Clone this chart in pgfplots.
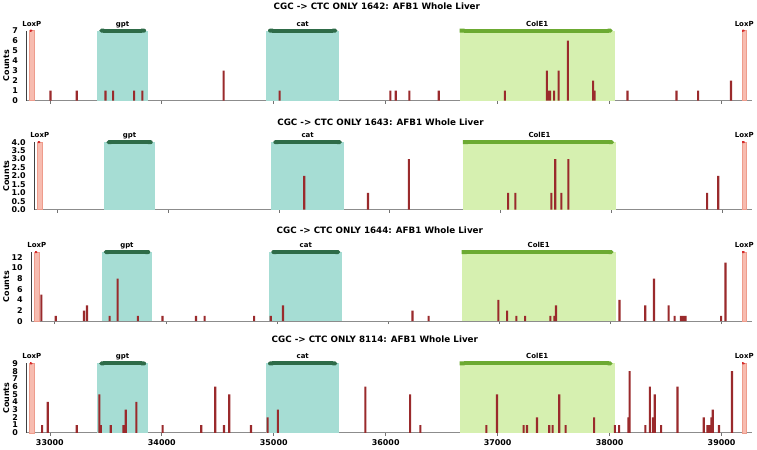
\documentclass[border=0pt]{standalone}
\usepackage{pgfplots}
\pgfplotsset{compat=1.18}
\usepackage{fontspec}
\setmainfont{DejaVu Sans}
\usetikzlibrary{arrows.meta}
\definecolor{tealfill}{HTML}{A6DDD4}
\definecolor{gptbar}{HTML}{2E6B48}
\definecolor{colfill}{HTML}{D6F0B0}
\definecolor{colbar}{HTML}{6CAA32}
\definecolor{loxfill}{HTML}{F7BCB0}
\definecolor{loxedge}{HTML}{EE9C8C}
\definecolor{loxred}{HTML}{D42A2A}
\definecolor{barred}{HTML}{9A2A2C}
\newcommand{\tickfont}{\fontsize{8}{8}\selectfont\bfseries}
\newcommand{\labfont}{\fontsize{7}{8}\selectfont\bfseries}
\newcommand{\ylabfont}{\fontsize{8}{8}\selectfont\bfseries}
\newcommand{\titfont}{\fontsize{8.8}{10}\selectfont\bfseries}
\pgfplotsset{
  panel/.style={
    scale only axis, clip=false,
    xmin=32790, xmax=39270, ymin=0,
    axis x line*=bottom, axis y line*=left,
    x axis line style={color=black!45, line width=0.9bp},
    y axis line style={color=black!75, line width=1.4bp},
    xtick={33000,34000,35000,36000,37000,38000,39000},
    tick align=outside, major tick length=3bp,
    xtick style={color=black!55, line width=0.6bp},
    ytick style={draw=none},
    scaled x ticks=false,
    /pgf/number format/assume math mode=true,
    xticklabel style={font=\tickfont, /pgf/number format/set thousands separator={}},
    yticklabel style={font=\tickfont, xshift=-2bp},
  }
}
\newcommand{\features}[1]{%
  \addplot[draw=none, fill=tealfill] coordinates {(33423,0)(33423,#1)(33878,#1)(33878,0)} --cycle;
  \addplot[draw=none, fill=tealfill] coordinates {(34931,0)(34931,#1)(35587,#1)(35587,0)} --cycle;
  \addplot[draw=none, fill=colfill] coordinates {(36661,0)(36661,#1)(38045,#1)(38045,0)} --cycle;
  \addplot[draw=loxedge, fill=loxfill, line width=0.4bp] coordinates {(32820,0)(32820,#1)(32858,#1)(32858,0)} --cycle;
  \addplot[draw=loxedge, fill=loxfill, line width=0.4bp] coordinates {(39182,0)(39182,#1)(39222,#1)(39222,0)} --cycle;
  \addplot[gptbar, line width=4bp, {Triangle Cap[]}-{Round Cap[]}] coordinates {(33441,#1)(33860,#1)};
  \addplot[gptbar, line width=4bp, {Round Cap[]}-{Triangle Cap[]}] coordinates {(34949,#1)(35569,#1)};
  \addplot[colbar, line width=4bp, {Butt Cap[]}-{Triangle Cap[]}] coordinates {(36661,#1)(38027,#1)};
  \addplot[loxred, line width=2bp, -{Triangle Cap[]}] coordinates {(32822,#1)(32846,#1)};
  \addplot[loxred, line width=2bp, -{Triangle Cap[]}] coordinates {(39184,#1)(39208,#1)};
  \node[font=\labfont, anchor=base, yshift=4.5bp] at (axis cs:32839,#1) {LoxP};
  \node[font=\labfont, anchor=base, yshift=4.5bp] at (axis cs:33650,#1) {gpt};
  \node[font=\labfont, anchor=base, yshift=4.5bp] at (axis cs:35259,#1) {cat};
  \node[font=\labfont, anchor=base, yshift=4.5bp] at (axis cs:37353,#1) {ColE1};
  \node[font=\labfont, anchor=base, yshift=4.5bp] at (axis cs:39202,#1) {LoxP};
}
\pgfplotsset{bars/.style={ybar, bar width=2.1bp, bar shift=0pt, fill=barred, draw=none, mark=none}}
\begin{document}
\begin{tikzpicture}
\fill[white] (0bp,0bp) rectangle (757bp,449bp);
% titles and y labels
\node[font=\titfont, anchor=base] at (377bp,439.7bp) {CGC -> CTC ONLY 1642: AFB1 Whole Liver};
\node[font=\titfont, anchor=base] at (380.7bp,324bp) {CGC -> CTC ONLY 1643: AFB1 Whole Liver};
\node[font=\titfont, anchor=base] at (380bp,215.7bp) {CGC -> CTC ONLY 1644: AFB1 Whole Liver};
\node[font=\titfont, anchor=base] at (375bp,106.3bp) {CGC -> CTC ONLY 8114: AFB1 Whole Liver};
\node[font=\ylabfont, rotate=90] at (6bp,384bp) {Counts};
\node[font=\ylabfont, rotate=90] at (6bp,273.5bp) {Counts};
\node[font=\ylabfont, rotate=90] at (6bp,162.7bp) {Counts};
\node[font=\ylabfont, rotate=90] at (6bp,51bp) {Counts};

% Panel 1
\begin{axis}[panel, at={(26bp,349bp)}, anchor=south west, width=726.5bp, height=70bp,
  ymax=7, ytick={0,1,...,7}, xticklabels={}]
\features{7}
\addplot[bars] coordinates {(33006,1)(33241,1)(33497,1)(33566,1)(33753,1)(33827,1)(34552,3)(35052,1)(36042,1)(36090,1)(36211,1)(36474,1)(37065,1)(37440,3)(37455,1)(37469,1)(37505,1)(37544,3)(37627,6)(37853,2)(37865,1)(38160,1)(38597,1)(38790,1)(39084,2)};
\end{axis}

% Panel 2
\begin{axis}[panel, at={(34bp,239.7bp)}, anchor=south west, width=718.5bp, height=67.6bp,
  ymax=4, ytick={0,0.5,...,4}, xticklabels={},
  yticklabel style={/pgf/number format/.cd, fixed, fixed zerofill, precision=1}]
\features{4}
\addplot[bars] coordinates {(35228,2)(35804,1)(36173,3)(37069,1)(37135,1)(37460,1)(37495,3)(37550,1)(37613,3)(38866,1)(38967,2)};
\end{axis}

% Panel 3
\begin{axis}[panel, at={(31bp,128bp)}, anchor=south west, width=721.5bp, height=69.3bp,
  ymax=13, ytick={0,2,...,12}, xticklabels={}]
\features{13}
\addplot[bars] coordinates {(32881,5)(33010,1)(33264,2)(33291,3)(33494,1)(33566,8)(33748,1)(33970,1)(34271,1)(34349,1)(34794,1)(34944,1)(35054,3)(36218,2)(36364,1)(36991,4)(37070,2)(37153,1)(37231,1)(37458,1)(37494,1)(37509,3)(38080,4)(38312,3)(38390,8)(38522,3)(38576,1)(38633,1)(38653,1)(38675,1)(38994,1)(39033,11)};
\end{axis}

% Panel 4
\begin{axis}[panel, at={(26bp,16.3bp)}, anchor=south west, width=726.5bp, height=69.4bp,
  ymax=9, ytick={0,1,...,9}]
\features{9}
\addplot[bars] coordinates {(32932,1)(32982,4)(33241,1)(33443,5)(33455,1)(33544,1)(33657,1)(33678,3)(33773,4)(34008,1)(34353,1)(34478,6)(34556,1)(34603,5)(34797,1)(34945,2)(35037,3)(35819,6)(36218,5)(36310,1)(36899,1)(36994,5)(37232,1)(37262,1)(37351,2)(37461,1)(37491,1)(37550,5)(37607,1)(37862,2)(38047,1)(38085,1)(38169,2)(38178,8)(38320,1)(38359,6)(38386,2)(38403,5)(38460,1)(38606,6)(38841,2)(38874,1)(38891,1)(38909,2)(38921,3)(38977,1)(39093,8)};
\end{axis}
\end{tikzpicture}
\end{document}
